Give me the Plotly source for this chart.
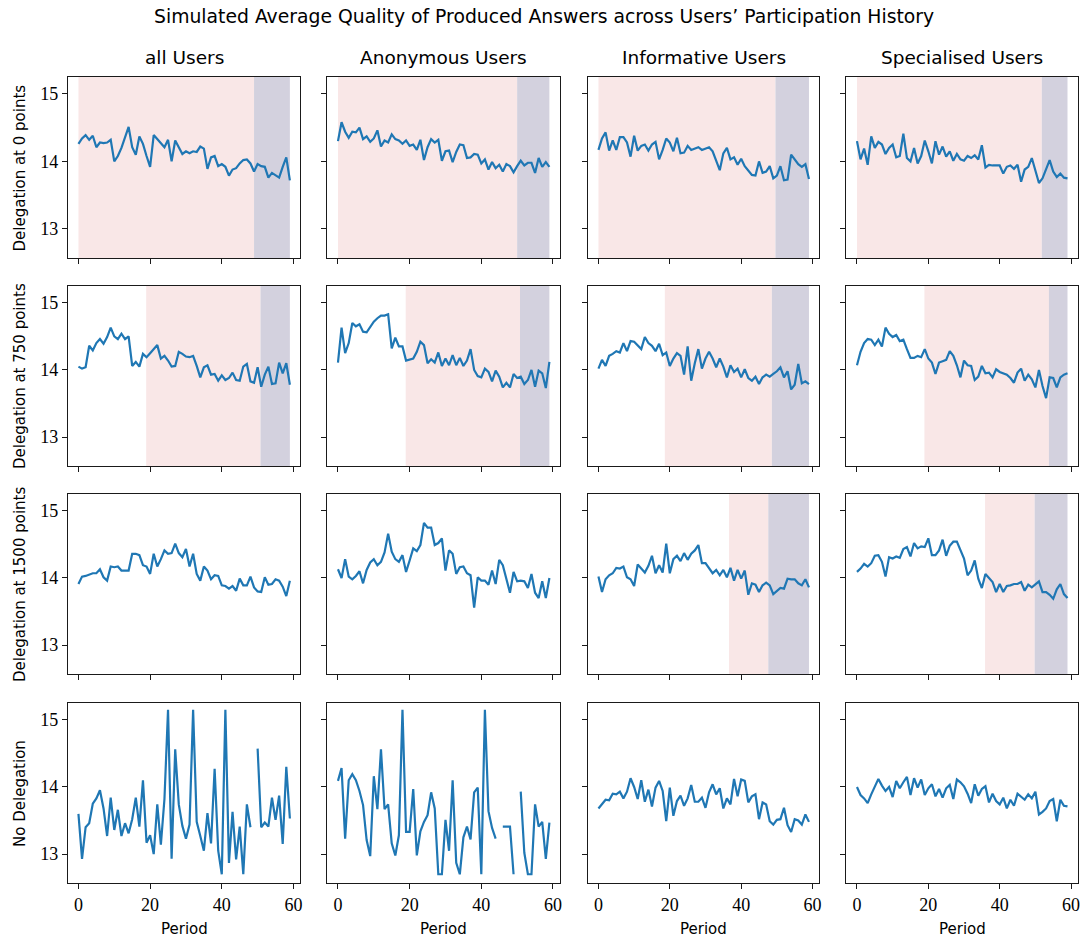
import plotly.graph_objects as go

periods = list(range(60))
col_titles = ["all Users", "Anonymous Users", "Informative Users", "Specialised Users"]
row_titles = ["Delegation at 0 points", "Delegation at 750 points", "Delegation at 1500 points", "No Delegation"]
x_ticks = [0, 20, 40, 60]
y_ticks = [13, 14, 15]

# Row 1: Delegation at 0 points
d0_all = [14.26,14.34,14.39,14.32,14.38,14.21,14.28,14.27,14.28,14.32,14.00,14.08,14.20,14.34,14.51,14.21,14.10,14.37,14.26,14.08,
          13.92,14.39,14.33,14.28,14.21,14.32,14.00,14.31,14.22,14.11,14.15,14.12,14.15,14.14,14.22,14.19,13.89,14.06,14.08,13.93,
          13.96,13.92,13.79,13.88,13.90,13.97,14.02,14.03,13.97,13.85,13.96,13.93,13.92,13.76,13.83,13.80,13.76,13.92,14.06,13.72]
d0_anon = [14.30,14.58,14.44,14.35,14.44,14.43,14.50,14.33,14.37,14.29,14.34,14.46,14.22,14.31,14.28,14.40,14.33,14.31,14.26,14.31,
           14.23,14.25,14.17,14.32,14.02,14.21,14.33,14.28,14.32,14.01,14.15,14.16,13.99,14.14,14.25,14.24,14.05,14.06,14.11,14.10,
           13.97,14.03,13.88,13.99,13.90,13.95,13.85,13.96,13.93,13.84,13.93,14.01,13.94,13.98,13.98,13.83,14.05,13.92,13.99,13.92]
d0_info = [14.17,14.34,14.43,14.16,14.31,14.17,14.36,14.36,14.28,14.07,14.38,14.16,14.23,14.25,14.16,14.25,14.29,14.03,14.17,14.34,
           14.28,14.15,14.35,14.12,14.13,14.23,14.17,14.19,14.21,14.17,14.19,14.21,14.15,14.02,13.87,14.12,14.20,14.03,14.06,13.95,
           14.04,13.93,13.87,13.80,13.79,14.00,13.83,13.85,13.93,13.75,13.79,13.93,13.72,13.73,14.10,14.02,13.96,13.92,13.96,13.74]
d0_spec = [14.30,14.03,14.19,13.95,14.37,14.20,14.29,14.25,14.11,14.20,14.25,14.06,14.08,14.41,14.05,14.00,14.20,13.97,14.08,14.31,
           14.15,13.97,14.30,14.10,14.22,14.07,14.15,14.01,14.11,14.03,14.01,14.08,14.05,14.09,14.03,14.24,13.91,13.95,13.94,13.94,
           13.94,13.82,13.92,13.94,13.89,13.95,13.70,13.88,13.92,14.05,13.85,13.68,13.75,13.88,14.02,13.85,13.77,13.82,13.76,13.75]

# Row 2: Delegation at 750 points
d750_all = [14.05,14.02,14.04,14.36,14.29,14.40,14.46,14.39,14.49,14.63,14.50,14.46,14.54,14.46,14.50,14.06,14.12,14.05,14.24,14.19,
            14.25,14.31,14.37,14.17,14.21,14.14,14.05,14.06,14.27,14.24,14.20,14.19,14.21,14.06,13.89,14.04,14.07,13.93,13.94,13.84,
            13.92,13.85,13.88,13.96,13.85,13.84,14.05,14.09,13.83,13.81,14.04,13.75,13.93,14.05,13.79,13.80,14.11,13.95,14.10,13.78]
d750_anon = [14.11,14.63,14.25,14.40,14.70,14.65,14.68,14.57,14.56,14.64,14.72,14.77,14.81,14.81,14.83,14.32,14.48,14.35,14.35,14.14,
             14.15,14.17,14.27,14.42,14.37,14.10,14.16,14.11,14.26,14.06,14.17,14.07,14.22,14.07,14.18,14.06,14.14,14.31,14.00,13.91,
             13.89,14.02,13.97,13.83,13.99,13.90,13.74,13.81,13.74,13.94,13.88,13.90,13.79,13.85,14.00,13.75,13.99,13.95,13.73,14.12]
d750_info = [14.02,14.15,14.06,14.21,14.24,14.28,14.26,14.40,14.28,14.43,14.42,14.37,14.31,14.49,14.40,14.36,14.28,14.39,14.22,14.26,
             14.06,14.17,14.25,14.21,13.93,14.35,13.84,14.10,14.31,14.02,14.17,14.27,14.17,14.04,14.17,14.05,13.89,14.07,13.97,14.02,
             13.89,14.01,13.88,13.84,13.90,13.79,13.89,13.93,13.90,13.94,13.98,14.04,13.89,13.98,13.71,13.78,14.09,13.80,13.83,13.79]
d750_spec = [14.07,14.27,14.40,14.46,14.45,14.37,14.45,14.35,14.63,14.54,14.49,14.52,14.43,14.45,14.31,14.18,14.18,14.21,14.19,14.31,
             14.17,14.11,13.94,14.11,14.13,14.15,14.28,14.21,14.07,13.89,14.14,14.07,14.06,13.85,13.90,14.06,13.95,13.96,13.89,14.01,
             13.97,13.95,13.93,13.88,13.81,13.96,14.02,13.84,13.93,13.86,13.74,14.00,13.76,13.58,13.89,13.88,13.74,13.89,13.93,13.95]

# Row 3: Delegation at 1500 points
d1500_all = [13.91,14.02,14.03,14.05,14.07,14.07,14.13,14.01,13.96,14.17,14.16,14.17,14.11,14.11,14.11,14.36,14.36,14.34,14.19,14.17,
             14.06,14.36,14.17,14.28,14.41,14.36,14.37,14.51,14.37,14.31,14.43,14.17,14.36,14.06,13.96,14.17,14.11,13.98,14.04,14.03,
             13.89,13.88,13.84,13.88,13.81,13.99,13.89,13.89,14.02,13.86,13.80,13.79,14.01,13.90,13.91,13.98,13.96,13.87,13.73,13.96]
d1500_anon = [14.13,14.00,14.28,14.02,13.98,14.03,14.10,13.92,14.12,14.23,14.28,14.19,14.24,14.38,14.66,14.39,14.28,14.24,14.34,14.09,
              14.26,14.44,14.40,14.49,14.82,14.75,14.75,14.49,14.52,14.59,14.11,14.41,14.36,14.06,14.16,14.17,14.07,14.04,13.56,14.01,
              13.96,13.96,13.90,14.11,13.91,14.27,14.19,13.98,13.78,14.09,13.95,13.96,13.95,13.85,14.06,13.78,13.70,13.95,13.70,14.00]
d1500_info = [14.02,13.79,13.98,14.04,14.07,14.15,14.14,14.17,14.01,13.98,13.88,14.20,14.14,14.08,14.18,14.33,14.07,14.19,14.08,14.51,
              14.07,14.28,14.33,14.25,14.37,14.27,14.36,14.41,14.49,14.22,14.22,14.15,14.07,14.12,14.04,14.12,14.01,14.15,13.96,14.12,
              13.99,14.11,13.75,13.92,13.90,13.79,13.89,13.93,13.89,13.76,13.80,13.85,13.84,13.99,13.98,13.98,13.92,13.89,13.98,13.86]
d1500_spec = [14.09,14.14,14.21,14.17,14.22,14.33,14.34,14.24,14.02,14.31,14.29,14.32,14.30,14.43,14.46,14.32,14.52,14.44,14.47,14.46,
              14.59,14.34,14.34,14.41,14.57,14.33,14.48,14.54,14.54,14.42,14.29,14.04,14.11,14.26,13.99,13.85,14.06,14.00,13.94,13.79,
              13.91,13.79,13.88,13.89,13.91,13.91,13.94,13.81,13.90,13.86,13.90,13.95,13.79,13.79,13.75,13.69,13.83,13.91,13.76,13.70]

# Row 4: No Delegation (None = missing period)
nod_all = [13.60,12.93,13.40,13.46,13.75,13.83,13.95,13.68,13.27,13.84,13.36,13.66,13.27,13.46,13.31,13.52,13.84,13.41,14.10,13.17,
           13.28,13.00,13.74,13.14,13.82,15.15,12.93,14.56,13.74,13.42,13.23,13.44,15.15,13.48,13.27,13.05,13.61,13.16,14.27,13.05,
           12.70,15.15,12.87,13.63,12.92,13.41,12.70,13.74,13.40,None,14.57,13.40,13.47,13.41,13.84,13.51,13.87,13.15,14.30,13.53]
nod_anon = [14.09,14.28,13.23,14.10,14.19,14.10,13.94,13.73,13.21,12.97,14.16,13.67,14.56,13.67,13.74,13.16,12.98,13.28,15.15,13.33,
            13.33,13.97,12.98,13.34,13.48,13.58,13.92,13.68,12.70,12.70,13.51,13.05,14.10,12.87,12.70,13.25,13.41,13.22,13.92,13.99,
            12.70,15.15,13.64,13.39,13.23,None,13.41,13.41,13.41,12.70,None,13.93,13.02,12.70,12.70,13.74,13.41,13.48,12.93,13.47]
nod_info = [13.68,13.74,13.81,13.80,13.90,13.89,13.93,13.83,13.93,14.13,14.00,13.82,14.10,13.78,13.96,13.71,13.99,14.09,13.94,13.49,
            13.99,13.57,13.79,13.87,13.72,13.83,14.03,13.78,13.78,13.84,13.69,13.92,14.04,13.89,13.98,13.68,13.83,13.74,14.12,13.86,
            14.11,14.09,13.77,13.86,13.89,13.52,13.77,13.74,13.49,13.44,13.51,13.52,13.69,13.43,13.33,13.52,13.50,13.44,13.59,13.48]
nod_spec = [14.00,13.88,13.83,13.76,13.89,14.00,14.12,14.02,13.94,14.00,13.85,14.09,13.98,14.07,14.15,13.88,14.13,13.99,14.11,13.88,
            13.98,14.04,13.86,13.97,13.84,13.98,14.03,13.82,14.11,14.07,14.01,13.90,13.76,14.04,13.87,13.97,14.01,13.77,13.90,13.79,
            13.74,13.84,13.68,13.81,13.72,13.90,13.86,13.81,13.89,13.83,13.93,13.59,13.63,13.68,13.79,13.82,13.49,13.81,13.72,13.71]

series = [
    [d0_all, d0_anon, d0_info, d0_spec],
    [d750_all, d750_anon, d750_info, d750_spec],
    [d1500_all, d1500_anon, d1500_info, d1500_spec],
    [nod_all, nod_anon, nod_info, nod_spec],
]

# Shaded phases per panel: (pink_start, dark_start, end); None = no shading
phases = [
    [(0, 49, 59), (0, 50, 59), (0, 49.6, 59), (0, 51.8, 59)],
    [(18.9, 50.8, 59), (18.9, 50.8, 59), (18.6, 48.6, 59), (18.9, 53.8, 59)],
    [None, None, (36.6, 47.6, 59), (35.9, 49.8, 59)],
    [None, None, None, None],
]

W, H = 1089, 941
col_px = [(68, 301), (328, 561), (589, 821), (848, 1080)]
row_px = [(77, 258), (286, 466), (494, 674), (703, 883)]
x_range = [-2.95, 61.95]
y_range = [12.57, 15.25]

pink = "rgb(249,231,231)"
dark = "rgb(211,209,222)"
line_color = "#1f77b4"
axis_color = "#1a1a1a"
sans = "DejaVu Sans"
serif = "Liberation Serif, DejaVu Serif, serif"

fig = go.Figure()
layout = {}
shapes = []
for r in range(4):
    for c in range(4):
        idx = r * 4 + c + 1
        sfx = "" if idx == 1 else str(idx)
        xa, ya = "x" + sfx, "y" + sfx
        fig.add_trace(go.Scatter(x=periods, y=series[r][c], mode="lines",
                                 line=dict(color=line_color, width=2.2),
                                 xaxis=xa, yaxis=ya, showlegend=False,
                                 connectgaps=False))
        x0, x1 = col_px[c]
        y0, y1 = row_px[r]
        layout["xaxis" + sfx] = dict(
            domain=[x0 / W, x1 / W], anchor=ya, range=x_range,
            showline=True, mirror=True, linecolor=axis_color, linewidth=1.3,
            ticks="outside", ticklen=5, tickwidth=1.2, tickcolor=axis_color,
            tickvals=x_ticks, showticklabels=(r == 3), showgrid=False, zeroline=False,
            tickfont=dict(family=serif, size=18, color="black"))
        layout["yaxis" + sfx] = dict(
            domain=[1 - y1 / H, 1 - y0 / H], anchor=xa, range=y_range,
            showline=True, mirror=True, linecolor=axis_color, linewidth=1.3,
            ticks="outside", ticklen=5, tickwidth=1.2, tickcolor=axis_color,
            tickvals=y_ticks, showticklabels=(c == 0), showgrid=False, zeroline=False,
            tickfont=dict(family=serif, size=18, color="black"))
        ph = phases[r][c]
        if ph is not None:
            p0, d0, e = ph
            shapes.append(dict(type="rect", xref=xa, yref=ya + " domain", x0=p0, x1=d0, y0=0, y1=1,
                               fillcolor=pink, line=dict(width=0), layer="below"))
            shapes.append(dict(type="rect", xref=xa, yref=ya + " domain", x0=d0, x1=e, y0=0, y1=1,
                               fillcolor=dark, line=dict(width=0), layer="below"))

annotations = []
annotations.append(dict(text="Simulated Average Quality of Produced Answers across Users\u2019 Participation History",
                        x=(153 + 936) / 2 / W, y=1 - 17 / H, xref="paper", yref="paper",
                        xanchor="center", yanchor="middle", showarrow=False,
                        font=dict(family=sans, size=18.8, color="black")))
for c, t in enumerate(col_titles):
    x0, x1 = col_px[c]
    annotations.append(dict(text=t, x=(x0 + x1) / 2 / W, y=1 - 58 / H, xref="paper", yref="paper",
                            xanchor="center", yanchor="middle", showarrow=False,
                            font=dict(family=sans, size=18.5, color="black")))
    annotations.append(dict(text="Period", x=(x0 + x1) / 2 / W, y=1 - 929 / H, xref="paper", yref="paper",
                            xanchor="center", yanchor="middle", showarrow=False,
                            font=dict(family=sans, size=15, color="black")))
for r, t in enumerate(row_titles):
    y0, y1 = row_px[r]
    annotations.append(dict(text=t, x=20 / W, y=1 - (y0 + y1) / 2 / H, xref="paper", yref="paper",
                            xanchor="center", yanchor="middle", showarrow=False, textangle=-90,
                            font=dict(family=sans, size=15, color="black")))

fig.update_layout(**layout)
fig.update_layout(width=W, height=H, margin=dict(l=0, r=0, t=0, b=0),
                  paper_bgcolor="white", plot_bgcolor="white",
                  shapes=shapes, annotations=annotations)
fig.write_html("out.html")
